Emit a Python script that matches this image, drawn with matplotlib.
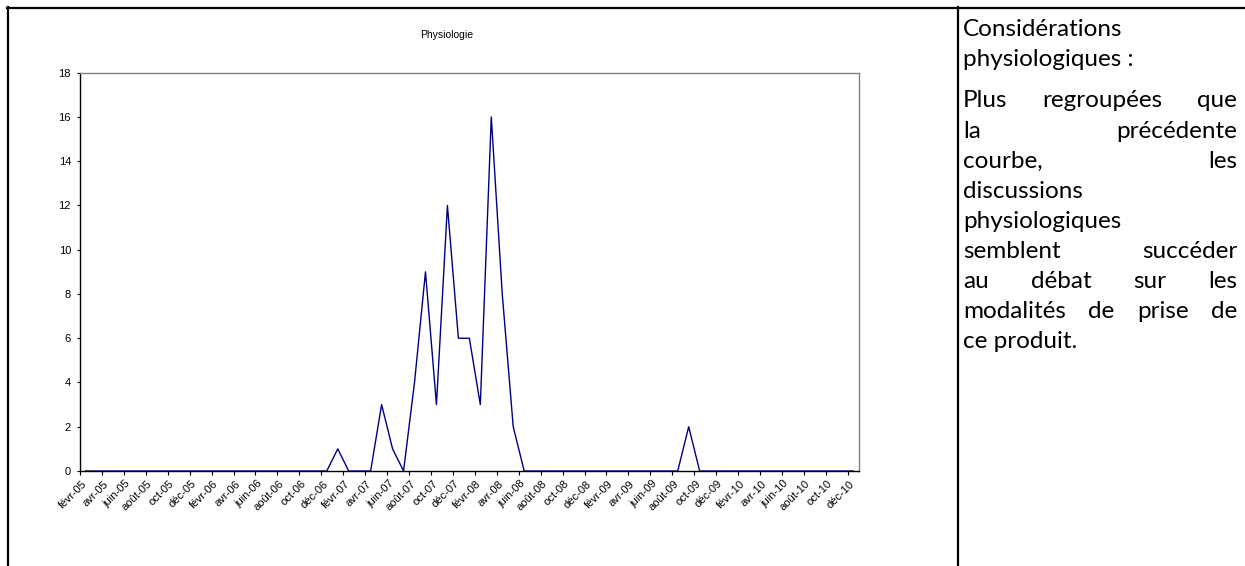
import matplotlib
matplotlib.use("Agg")
import matplotlib.pyplot as plt
from matplotlib.lines import Line2D

# Monthly counts, févr-05 .. déc-10
months = ["janv", "févr", "mars", "avr", "mai", "juin",
          "juil", "août", "sept", "oct", "nov", "déc"]
years = ["05", "06", "07", "08", "09", "10"]
counts_2005 = [0, 0, 0, 0, 0, 0, 0, 0, 0, 0, 0]          # févr..déc
counts_2006 = [0, 0, 0, 0, 0, 0, 0, 0, 0, 0, 0, 0]
counts_2007 = [1, 0, 0, 0, 3, 1, 0, 4, 9, 3, 12, 6]
counts_2008 = [6, 3, 16, 8, 2, 0, 0, 0, 0, 0, 0, 0]
counts_2009 = [0, 0, 0, 0, 0, 0, 0, 0, 2, 0, 0, 0]
counts_2010 = [0, 0, 0, 0, 0, 0, 0, 0, 0, 0, 0, 0]

values = counts_2005 + counts_2006 + counts_2007 + counts_2008 + counts_2009 + counts_2010
categories = [m + "-" + y for y in years for m in months][1:]
y_ticks = [0, 2, 4, 6, 8, 10, 12, 14, 16, 18]

side_lines = [
    ("Considérations", False),
    ("physiologiques :", False),
    ("Plus regroupées que", True),
    ("la précédente", True),
    ("courbe, les", True),
    ("discussions", False),
    ("physiologiques", False),
    ("semblent succéder", True),
    ("au débat sur les", True),
    ("modalités de prise de", True),
    ("ce produit.", False),
]
side_y = [30, 60, 101, 131, 161, 191, 221, 251, 281, 311, 341]

W, H = 1245, 566
fig = plt.figure(figsize=(W / 100, H / 100), dpi=100)
fig.patch.set_facecolor("white")

ax = fig.add_axes([80 / W, 1 - 471 / H, (858.7 - 80) / W, (471 - 72.7) / H])
x = list(range(len(values)))
ax.plot(x, values, color="#000080", lw=1.0, zorder=3)

ax.set_xlim(-0.5, len(values) - 0.5)
ax.set_ylim(0, 18)
ax.set_yticks(y_ticks)
ax.set_yticklabels([str(v) for v in y_ticks], fontsize=8, family="Liberation Sans")

tick_pos = [i - 0.5 for i in range(0, len(values), 2)]
ax.set_xticks(tick_pos)
ax.set_xticklabels([])
ax.tick_params(axis="x", direction="out", length=3, width=0.8, color="black")
ax.tick_params(axis="y", direction="out", length=2.5, width=0.8, color="black", pad=4)

for i in range(0, len(values), 2):
    ax.annotate(categories[i], xy=(i, 0), xycoords="data",
                xytext=(-3, -5.5), textcoords="offset points",
                rotation=45, ha="right", va="top", rotation_mode="anchor",
                fontsize=8, family="Liberation Sans")

for s in ("top", "right"):
    ax.spines[s].set_color("#808080")
    ax.spines[s].set_linewidth(1.0)
for s in ("left", "bottom"):
    ax.spines[s].set_color("black")
    ax.spines[s].set_linewidth(1.0)

fig.text(447 / W, 1 - 35 / H, "Physiologie", ha="center", va="center",
         fontsize=7.5, family="Liberation Sans")

# table borders
def px_line(x0, y0, x1, y1):
    fig.add_artist(Line2D([x0 / W, x1 / W], [1 - y0 / H, 1 - y1 / H],
                          transform=fig.transFigure, color="black", lw=1.6))

px_line(6.5, 7.5, W, 7.5)
px_line(7.5, 7, 7.5, H)
px_line(958, 7, 958, H)

# side text, justified like the Word cell
x_left, x_right = 963, 1237
font = dict(fontsize=17.5, family="Lato", color="black")
fig.canvas.draw()
renderer = fig.canvas.get_renderer()
for (line, justify), yy in zip(side_lines, side_y):
    words = line.split(" ")
    if not justify or len(words) == 1:
        fig.text(x_left / W, 1 - yy / H, line, ha="left", va="center", **font)
        continue
    texts = [fig.text(0, 1 - yy / H, w, ha="left", va="center", **font) for w in words]
    widths = [t.get_window_extent(renderer).width for t in texts]
    gap = (x_right - x_left - sum(widths)) / (len(words) - 1)
    pos = x_left
    for t, wd in zip(texts, widths):
        t.set_x(pos / W)
        pos += wd + gap

fig.savefig("out.png", dpi=100)
